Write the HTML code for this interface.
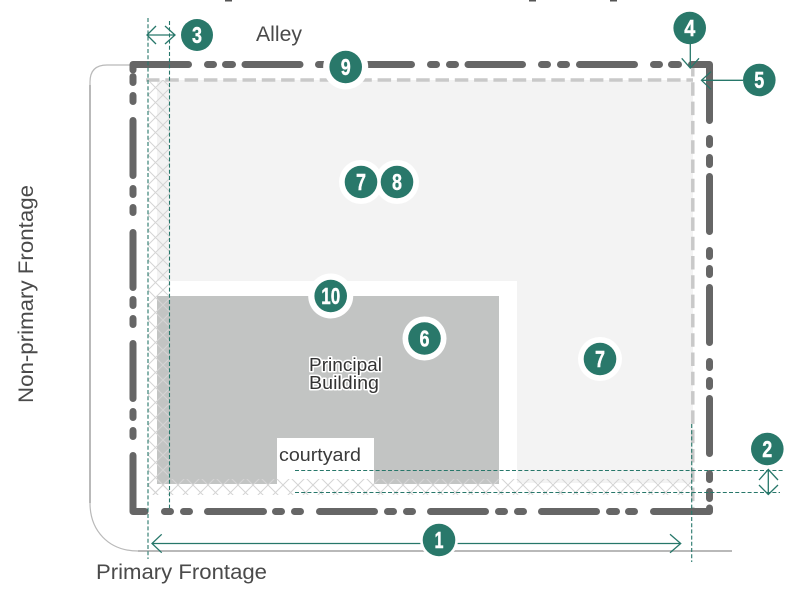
<!DOCTYPE html>
<html><head><meta charset="utf-8"><style>
html,body{margin:0;padding:0;background:#fff}
svg{display:block}
text{font-family:"Liberation Sans",sans-serif}
.l{fill:#4a4a4a;font-size:21px}
.n{fill:#fff;stroke:#fff;stroke-width:.4px;font-size:23.5px;font-weight:bold;text-anchor:middle}
</style></head><body>
<svg width="811" height="593" viewBox="0 0 811 593" xmlns="http://www.w3.org/2000/svg">
<defs>
<pattern id="h" width="15" height="15" patternUnits="userSpaceOnUse" patternTransform="translate(148 80)">
<path d="M0 0L15 15M15 0L0 15" stroke="#d4d4d4" stroke-width="1" fill="none"/>
</pattern>
</defs>
<rect width="811" height="593" fill="#fff"/>
<path d="M225 0h7v1.5h-7zM529 0h7v1.5h-7zM610 0h7v1.5h-7z" fill="#555"/>

<!-- street edge -->
<path d="M130 65H107Q90 65 90 82V503C90 530 108 551 138 551H732" fill="none" stroke="#b9b9b9" stroke-width="1.2"/>
<path d="M138 551H732" stroke="#b9b9b9" stroke-width="2"/>
<path d="M90 85V503" stroke="#b9b9b9" stroke-width="2"/>

<!-- lot fill -->
<rect x="157" y="80" width="536" height="403" fill="#f3f3f3"/>
<rect x="157" y="281" width="360" height="202" fill="#fff"/>
<rect x="157" y="296" width="342" height="188" fill="#c2c4c3"/>
<rect x="277" y="438" width="97" height="46" fill="#fff"/>
<rect x="148" y="80" width="22" height="415" fill="url(#h)"/>
<rect x="148" y="479" width="545" height="16" fill="url(#h)"/>

<!-- setback -->
<path d="M146 80H693" fill="none" stroke="#c9c9c9" stroke-width="3.5" stroke-dasharray="13.5 5.8"/>
<path d="M692.8 63V515" fill="none" stroke="#c9c9c9" stroke-width="3.5" stroke-dasharray="13.5 5.8"/>

<!-- property line -->
<path fill="none" stroke="#666" stroke-width="7" stroke-linecap="round" stroke-linejoin="round" d="
M133 70V64.5H188.5
M207.5 64.5H213.5M225.5 64.5H232.5M245 64.5H300M318.5 64.5H324.5M337.5 64.5H343.5M356.5 64.5H411.5M430.5 64.5H436.5M449.5 64.5H455.5M468 64.5H522.5M541.5 64.5H547.5M560.5 64.5H566.5M579.5 64.5H634.5M653.5 64.5H659.5M671.5 64.5H678.5
M691.5 64.5H709.5V120.5
M709.5 138.5V144.5M709.5 157.5V164.5M709.5 176.5V231.5M709.5 250.5V256.5M709.5 268.5V274.5M709.5 287.5V342.5M709.5 361.5V367.5M709.5 380.5V386.5M709.5 398.5V453.5M709.5 473.5V479.5M709.5 491.5V498.5
M133 76.5V82.5M133 95.5V101.5M133 120.5V175.5M133 188.5V194.5M133 207.5V212.5M133 232.5V287.5M133 299.5V305.5M133 318.5V324.5M133 343.5V398.5M133 411.5V417.5M133 430.5V436.5
M133 455.5V511.5H145
M164.5 511.5H170.5M183.5 511.5H189.5M207.5 511.5H263.5M275.5 511.5H281.5M294.5 511.5H300.5M319.5 511.5H374.5M387.5 511.5H393.5M406.5 511.5H412.5M430.5 511.5H485.5M498.5 511.5H504.5M517.5 511.5H523.5M541.5 511.5H596.5M609.5 511.5H616.5M628.5 511.5H634.5M653.5 511.5H709.5V508"/>

<!-- dimension lines -->
<g fill="none" stroke="#27776a" stroke-width="1.1" stroke-dasharray="4 2.2">
<path d="M148 18V559M169.5 21V508M691.7 424V562M295 470.5H783M295 492.5H780"/>
</g>
<!-- arrows -->
<g fill="none" stroke="#27776a" stroke-width="1.3">
<path d="M147 35H175M156 26L147 35L156 44M165 26L175 35L165 44"/>
<path d="M690.3 42V68M681.7 58.3L690.3 68L699 58.3"/>
<path d="M743 80.3H701.5M711 71.7L701.5 80.3L711 89.3"/>
<path d="M768.3 469V495M759 480L768.3 469.5L778 480M759 485L768.3 494.5L778 485"/>
<path d="M152 543.5H680.7M161.7 534.3L152 543.5L161.7 552.7M670 534.3L680.7 543.5L670 552.7"/>
</g>

<!-- labels -->
<text class="l" x="256" y="41" textLength="46" lengthAdjust="spacingAndGlyphs">Alley</text>
<text class="l" x="96" y="579" textLength="171" lengthAdjust="spacingAndGlyphs">Primary Frontage</text>
<text class="l" transform="translate(33 403) rotate(-90)" textLength="218" lengthAdjust="spacingAndGlyphs">Non-primary Frontage</text>
<text x="279" y="461" style="fill:#3a3a3a;font-size:18px" textLength="82" lengthAdjust="spacingAndGlyphs">courtyard</text>
<g style="fill:#333;font-size:18px;stroke:#fff;stroke-width:3px;paint-order:stroke;stroke-linejoin:round">
<text x="309" y="371" textLength="73" lengthAdjust="spacingAndGlyphs">Principal</text>
<text x="309" y="389" textLength="70" lengthAdjust="spacingAndGlyphs">Building</text>
</g>

<!-- halos -->
<g fill="#fff">
<circle cx="345.7" cy="67" r="22.5"/>
<circle cx="361" cy="182" r="22"/>
<circle cx="397" cy="182" r="22"/>
<circle cx="424.5" cy="338.5" r="22"/>
<circle cx="330.7" cy="296" r="22.5"/>
<circle cx="600" cy="359" r="22"/>
<circle cx="439" cy="540" r="19"/>
</g>
<!-- badges -->
<g fill="#29786a">
<circle cx="197" cy="35" r="16"/>
<circle cx="689.7" cy="28" r="16.3"/>
<circle cx="759.3" cy="80" r="16.3"/>
<circle cx="767.3" cy="449" r="16.3"/>
<circle cx="439" cy="540" r="16.3"/>
<circle cx="345.7" cy="67" r="16.3"/>
<circle cx="361" cy="182" r="16.3"/>
<circle cx="397" cy="182" r="16.3"/>
<circle cx="424.5" cy="338.5" r="16.3"/>
<circle cx="330.7" cy="296" r="16.3"/>
<circle cx="600" cy="359" r="16.3"/>
</g>
<g>
<text class="n" x="197" y="43" textLength="10" lengthAdjust="spacingAndGlyphs">3</text>
<text class="n" x="689.7" y="36" textLength="11" lengthAdjust="spacingAndGlyphs">4</text>
<text class="n" x="759.3" y="88" textLength="10" lengthAdjust="spacingAndGlyphs">5</text>
<text class="n" x="767.3" y="457" textLength="10" lengthAdjust="spacingAndGlyphs">2</text>
<text class="n" x="439" y="548" textLength="9" lengthAdjust="spacingAndGlyphs">1</text>
<text class="n" x="345.7" y="75" textLength="10" lengthAdjust="spacingAndGlyphs">9</text>
<text class="n" x="361" y="190" textLength="10" lengthAdjust="spacingAndGlyphs">7</text>
<text class="n" x="397" y="190" textLength="10" lengthAdjust="spacingAndGlyphs">8</text>
<text class="n" x="424.5" y="346.5" textLength="10" lengthAdjust="spacingAndGlyphs">6</text>
<text class="n" x="330.7" y="304" textLength="19" lengthAdjust="spacingAndGlyphs">10</text>
<text class="n" x="600" y="367" textLength="10" lengthAdjust="spacingAndGlyphs">7</text>
</g>
</svg>
</body></html>
